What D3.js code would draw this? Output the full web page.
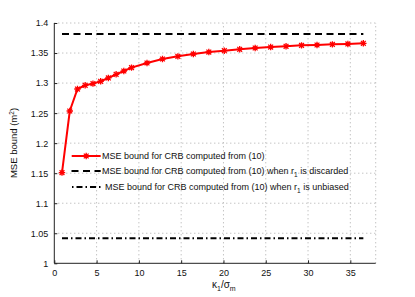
<!DOCTYPE html>
<html><head><meta charset="utf-8">
<script src="https://cdn.jsdelivr.net/npm/d3@7"></script>
<style>body{margin:0;background:#fff}svg{display:block;font-family:"Liberation Sans",Arial,sans-serif}</style>
</head><body><svg id="c" width="415" height="297"></svg>
<script>
const kappaRatio = [0.91,1.83,2.74,3.65,4.57,5.48,6.39,7.31,8.22,9.13,10.96,12.79,14.61,16.44,18.27,20.1,21.92,23.75,25.58,27.4,29.23,31.06,32.88,34.71,36.54];
const mseBound = [1.151,1.2535,1.2901,1.2963,1.2991,1.3030,1.3085,1.3146,1.3201,1.3257,1.3334,1.3401,1.3445,1.3484,1.3517,1.3539,1.3562,1.3584,1.3600,1.3612,1.3628,1.3634,1.3645,1.3651,1.3662];
const discardedBound = 1.3817;
const unbiasedBound = 1.0416;
const lineSpan = [0.91, 36.54];
const xTicks = [0,5,10,15,20,25,30,35];
const yTicks = [1,1.05,1.1,1.15,1.2,1.25,1.3,1.35,1.4];
const legendLabels = ["MSE bound for CRB computed from (10)",
  "MSE bound for CRB computed from (10) when r|1| is discarded",
  "MSE bound for CRB computed from (10) when r|1| is unbiased"];

const svg = d3.select("#c");
const x = d3.scaleLinear().domain([0,38]).range([54.3,375.7]);
const y = d3.scaleLinear().domain([1,1.4]).range([263.3,23]);

// grid
const g = svg.append("g");
g.selectAll(".vg").data(xTicks.slice(1).concat([38])).enter().append("line")
  .attr("x1",d=>x(d)).attr("x2",d=>x(d)).attr("y1",y(1)).attr("y2",y(1.4))
  .attr("stroke","#aaa").attr("stroke-width",1).attr("stroke-dasharray","1,3");
g.selectAll(".hg").data(yTicks.slice(1)).enter().append("line")
  .attr("x1",x(0)).attr("x2",x(38)).attr("y1",d=>y(d)).attr("y2",d=>y(d))
  .attr("stroke","#aaa").attr("stroke-width",1).attr("stroke-dasharray","1,3");

// axes
const xAxis = d3.axisBottom(x).tickValues(xTicks).tickSize(-3).tickPadding(6).tickFormat(d3.format("d"));
const yAxis = d3.axisLeft(y).tickValues(yTicks).tickSize(-3).tickPadding(6).tickFormat(d=>String(+d.toFixed(2)));
const gx = svg.append("g").attr("transform",`translate(0,${y(1)})`).call(xAxis);
const gy = svg.append("g").attr("transform",`translate(${x(0)},0)`).call(yAxis);
[gx,gy].forEach(a=>{
  a.select(".domain").attr("stroke","#222");
  a.selectAll(".tick line").attr("stroke","#222");
  a.selectAll("text").attr("font-size",9).attr("fill","#111").attr("font-family","Liberation Sans, Arial, sans-serif");
});
gy.select(".domain").attr("d",`M0,${y(1)}V${y(1.4)}`);
gx.select(".domain").attr("d",`M${x(0)},0H${x(38)}`);

// reference lines
svg.append("line").attr("x1",x(lineSpan[0])).attr("x2",x(lineSpan[1]))
  .attr("y1",y(discardedBound)).attr("y2",y(discardedBound))
  .attr("stroke","#000").attr("stroke-width",2).attr("stroke-dasharray","7,4.5");
svg.append("line").attr("x1",x(lineSpan[0])).attr("x2",x(lineSpan[1]))
  .attr("y1",y(unbiasedBound)).attr("y2",y(unbiasedBound))
  .attr("stroke","#000").attr("stroke-width",2).attr("stroke-dasharray","6,3,1.5,3");

// main series
const pts = kappaRatio.map((k,i)=>[k,mseBound[i]]);
svg.append("path").datum(pts)
  .attr("d",d3.line().x(d=>x(d[0])).y(d=>y(d[1])))
  .attr("fill","none").attr("stroke","#f00").attr("stroke-width",2);
function star(sel, cx, cy, r){
  sel.append("path")
    .attr("d",`M${cx-r},${cy}H${cx+r}M${cx},${cy-r}V${cy+r}M${cx-r*0.75},${cy-r*0.75}L${cx+r*0.75},${cy+r*0.75}M${cx-r*0.75},${cy+r*0.75}L${cx+r*0.75},${cy-r*0.75}`)
    .attr("stroke","#f00").attr("stroke-width",1.3).attr("fill","none");
}
pts.forEach(p=>star(svg, x(p[0]), y(p[1]), 3.2));

// legend
const lg = svg.append("g");
const rowsY = [156,171,187];
const textX = [102,102,105];
lg.append("line").attr("x1",71.7).attr("x2",100.7).attr("y1",rowsY[0]).attr("y2",rowsY[0]).attr("stroke","#f00").attr("stroke-width",2);
star(lg, 86.2, rowsY[0], 3.2);
lg.append("line").attr("x1",71.5).attr("x2",100.7).attr("y1",rowsY[1]).attr("y2",rowsY[1]).attr("stroke","#000").attr("stroke-width",2).attr("stroke-dasharray","7,4.5");
lg.append("line").attr("x1",72).attr("x2",100.5).attr("y1",rowsY[2]).attr("y2",rowsY[2]).attr("stroke","#000").attr("stroke-width",2).attr("stroke-dasharray","1.5,3,6,3");
legendLabels.forEach((s,i)=>{
  const t = lg.append("text").attr("x",textX[i]).attr("y",rowsY[i]+3.3).attr("font-size",9).attr("fill","#111");
  const parts = s.split("|");
  parts.forEach((p,j)=>{
    if(j%2===1){
      t.append("tspan").attr("dy",2.5).attr("font-size",6.5).text(p);
    } else {
      t.append("tspan").attr("dy", j>0 ? -2.5 : 0).text(p);
    }
  });
});

// axis labels
const xl = svg.append("text").attr("x",212).attr("y",288).attr("font-size",10).attr("fill","#111");
xl.append("tspan").text("κ");
xl.append("tspan").attr("dy",3).attr("font-size",7).text("1");
xl.append("tspan").attr("dy",-3).text("/σ");
xl.append("tspan").attr("dy",3).attr("font-size",7).text("m");

const yl = svg.append("text").attr("transform",`translate(17,143) rotate(-90)`).attr("text-anchor","middle").attr("font-size",9.5).attr("fill","#111");
yl.append("tspan").text("MSE bound (m");
yl.append("tspan").attr("dy",-3.5).attr("font-size",6.5).text("2");
yl.append("tspan").attr("dy",3.5).text(")");
</script></body></html>
